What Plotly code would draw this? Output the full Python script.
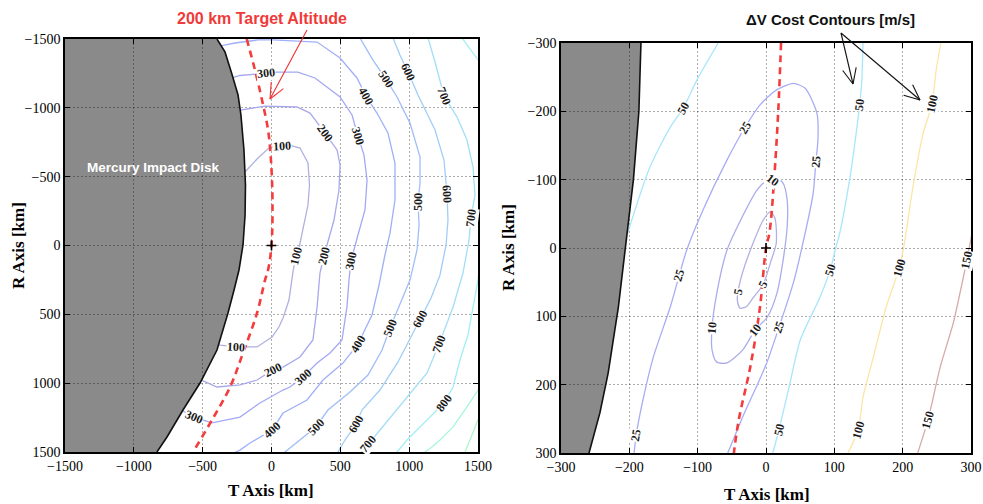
import math
import plotly.graph_objects as go

FIG_W, FIG_H = 983, 504

# ------------------------------------------------------------------
# Wide view (left panel): B-plane T/R coordinates in km
# ------------------------------------------------------------------
wide_ticks = [-1500, -1000, -500, 0, 500, 1000, 1500]

# Edge of the Mercury impact disk
wide_disk_T = [-396, -338, -290, -243, -222, -200, -189, -192, -207, -236, -272, -316, -396, -519, -643, -759, -832]
wide_disk_R = [-1500, -1406, -1253, -1093, -948, -694, -439, -222, -4, 178, 323, 490, 759, 999, 1195, 1391, 1500]

# 200 km target altitude ring
wide_alt_T = [-180, -120, -69, -25, -4, 7, 0, -25, -47, -105, -207, -301, -432, -570]
wide_alt_R = [-1500, -1275, -1057, -839, -621, -331, 0, 178, 251, 490, 781, 1028, 1267, 1500]

# Delta-V cost contours [m/s], vertices as (T, R)
wide_c100 = [(-193, -534), (-98, -636), (-11, -715), (76, -723), (149, -723), (207, -708), (265, -599),
             (276, -439), (265, -294), (229, -127), (200, 18), (178, 76), (156, 192), (127, 396),
             (84, 527), (54, 592), (4, 665), (-105, 737), (-258, 737), (-374, 723), (-385, 718)]
wide_c200 = [(-226, -984), (-47, -1013), (185, -1006), (280, -962), (389, -817), (476, -694), (498, -585),
             (490, -403), (454, -185), (403, -4), (381, 76), (352, 200), (331, 447), (301, 686),
             (207, 810), (84, 883), (11, 904), (-105, 977), (-229, 1013), (-396, 1028), (-505, 980)]
wide_c300 = [(-282, -1220), (-229, -1235), (-98, -1246), (-40, -1253), (40, -1260), (192, -1260),
             (316, -1217), (498, -1079), (585, -948), (628, -795), (672, -657), (694, -476), (679, -258),
             (628, -76), (577, 113), (563, 251), (548, 447), (512, 686), (425, 781), (331, 854),
             (229, 955), (134, 1028), (84, 1050), (-84, 1144), (-229, 1246), (-432, 1289),
             (-563, 1246), (-648, 1200)]
wide_c400 = [(-362, -1452), (-265, -1471), (-98, -1493), (11, -1493), (331, -1478), (498, -1362),
             (621, -1217), (686, -1086), (766, -962), (846, -817), (897, -599), (897, -331), (861, -91),
             (824, 69), (781, 287), (730, 505), (628, 716), (519, 854), (374, 977), (258, 1122),
             (84, 1217), (4, 1340), (-156, 1435), (-229, 1486), (-316, 1529)]
wide_c500 = [(643, -1507), (737, -1347), (832, -1209), (912, -1079), (1006, -889), (1079, -643),
             (1079, -454), (1064, -316), (1072, -149), (1057, 33), (1006, 251), (933, 432), (861, 599),
             (803, 759), (701, 941), (570, 1064), (410, 1195), (323, 1318), (207, 1413), (98, 1500),
             (62, 1529)]
wide_c600 = [(883, -1507), (933, -1384), (992, -1260), (1064, -1093), (1188, -839), (1253, -621),
             (1275, -374), (1282, -185), (1268, -4), (1224, 214), (1159, 381), (1079, 534), (1006, 672),
             (919, 846), (788, 1050), (657, 1195), (614, 1297), (534, 1413), (483, 1500), (461, 1529)]
wide_c700 = [(1137, -1507), (1188, -1333), (1253, -1086), (1348, -933), (1420, -766), (1464, -570),
             (1478, -367), (1449, -200), (1435, -40), (1391, 200), (1319, 447), (1217, 716),
             (1130, 926), (984, 1101), (810, 1318), (701, 1442), (657, 1500), (628, 1544)]
wide_c800_top = [(1384, -1507), (1500, -1347), (1551, -1280)]
wide_c800_low = [(1529, 33), (1500, 251), (1464, 447), (1427, 650), (1369, 832), (1319, 1028),
                 (1253, 1144), (1151, 1246), (984, 1413), (912, 1500), (875, 1544)]
wide_c900 = [(1551, 977), (1515, 1028), (1420, 1173), (1319, 1318), (1224, 1413), (1166, 1464),
             (1115, 1500), (1079, 1529)]
wide_c1000 = [(1529, 1210), (1493, 1282), (1442, 1413), (1406, 1500), (1380, 1540)]

wide_contours = [(100, wide_c100), (200, wide_c200), (300, wide_c300), (400, wide_c400),
                 (500, wide_c500), (600, wide_c600), (700, wide_c700), (800, wide_c800_top),
                 (800, wide_c800_low), (900, wide_c900), (1000, wide_c1000)]

# In-line contour labels (level, T, R)
wide_labels = [(100, 76, -723), (100, 178, 76), (100, -258, 737),
               (200, 389, -817), (200, 381, 76), (200, 11, 904),
               (300, -40, -1253), (300, 628, -795), (300, 577, 113), (300, 229, 955), (300, -563, 1246),
               (400, 686, -1086), (400, 628, 716), (400, 4, 1340),
               (500, 832, -1209), (500, 1064, -316), (500, 861, 599), (500, 323, 1318),
               (600, 992, -1260), (600, 1275, -374), (600, 1079, 534), (600, 614, 1297),
               (700, 1253, -1086), (700, 1449, -200), (700, 1217, 716), (700, 701, 1442),
               (800, 1253, 1144)]

# ------------------------------------------------------------------
# Close view (right panel)
# ------------------------------------------------------------------
close_ticks = [-300, -200, -100, 0, 100, 200, 300]

close_disk_T = [-183, -186, -194, -206, -216, -231, -243, -259]
close_disk_R = [-300, -200, -100, 0, 86, 183, 241, 300]

close_alt_T = [22, 18, 12, 5, 0, -9, -23, -40, -47]
close_alt_R = [-300, -202, -102, -22, 0, 88, 174, 252, 300]

close_c5 = [(6, -53), (13, -44), (15, -7), (7, 20), (-4, 53), (-19, 73), (-29, 86), (-38, 88), (-42, 76),
            (-41, 64), (-34, 35), (-19, -7), (-4, -41), (6, -53)]
close_c10 = [(13, -104), (25, -95), (31, -70), (31, -31), (25, 18), (16, 66), (2, 101), (-16, 120),
             (-34, 149), (-57, 168), (-72, 167), (-79, 149), (-79, 117), (-72, 66), (-57, 3), (-35, -45),
             (-13, -85), (1, -99), (13, -104)]
close_c25 = [(-193, 300), (-190, 274), (-180, 222), (-165, 160), (-140, 86), (-127, 40), (-116, 3),
             (-92, -56), (-57, -129), (-31, -176), (-9, -209), (15, -231), (40, -241), (57, -234),
             (67, -217), (75, -195), (76, -158), (73, -126), (69, -80), (54, -7), (40, 51), (19, 116),
             (0, 171), (-34, 247), (-48, 281), (-56, 300)]
close_c50_left = [(-70, -300), (-101, -246), (-121, -205), (-140, -177), (-170, -118), (-203, -20)]
close_c50_right = [(142, -300), (140, -241), (137, -209), (132, -168), (123, -104), (108, -22), (102, 0),
                   (94, 32), (79, 72), (50, 135), (35, 198), (19, 266), (10, 300)]
close_c100 = [(256, -300), (249, -260), (243, -211), (230, -168), (215, -89), (202, -4), (195, 29),
              (176, 86), (157, 160), (142, 218), (135, 266), (120, 300)]
close_c150 = [(301, -19), (294, 18), (290, 37), (274, 110), (255, 174), (237, 252), (222, 300)]

close_contours = [(5, close_c5), (10, close_c10), (25, close_c25), (50, close_c50_left),
                  (50, close_c50_right), (100, close_c100), (150, close_c150)]

close_labels = [(5, -4, 53), (5, -41, 64),
                (10, 10, -100), (10, -16, 120), (10, -79, 117),
                (25, -127, 40), (25, -31, -176), (25, 73, -126), (25, 19, 116), (25, -190, 274),
                (50, -121, -205), (50, 137, -209), (50, 94, 32), (50, 19, 266),
                (100, 243, -211), (100, 195, 29), (100, 135, 266),
                (150, 294, 18), (150, 237, 252)]

aim_point = [0]

# ------------------------------------------------------------------
# Styling
# ------------------------------------------------------------------
wide_colors = {100: "#b0b0e2", 200: "#a8a8ec", 300: "#a4a8f4", 400: "#a0b0f8", 500: "#a0bef8",
               600: "#a0cef8", 700: "#a2def8", 800: "#a2eef4", 900: "#a8f4e0", 1000: "#b0f4c8"}
close_colors = {5: "#b0b0e4", 10: "#acacec", 25: "#a8acf4", 50: "#a8e6fc", 100: "#fbe6a6", 150: "#d6aaa6"}

LEFT_XDOM = [65 / FIG_W, 478 / FIG_W]
LEFT_YDOM = [1 - 452 / FIG_H, 1 - 39 / FIG_H]
RIGHT_XDOM = [561 / FIG_W, 971 / FIG_W]
RIGHT_YDOM = [1 - 453 / FIG_H, 1 - 43 / FIG_H]

SERIF = "Liberation Serif"
SANS = "Liberation Sans"
ALT_RED = "#f43c3c"
DISK_GRAY = "#8a8a8a"


def scale(dom, ticks, size):
    return (dom[1] - dom[0]) * size / (ticks[-1] - ticks[0])


def label_angle(paths, t, r, kx, ky):
    best = None
    for path in paths:
        for i, (pt, pr) in enumerate(path):
            d = ((pt - t) * kx) ** 2 + ((pr - r) * ky) ** 2
            if best is None or d < best[0]:
                best = (d, path, i)
    _, path, i = best
    a = path[max(i - 1, 0)]
    b = path[min(i + 1, len(path) - 1)]
    dx = (b[0] - a[0]) * kx
    dy = (b[1] - a[1]) * ky  # R axis grows downward on screen
    if dx < 0 or (dx == 0 and dy > 0):
        dx, dy = -dx, -dy
    return math.degrees(math.atan2(dy, dx))


fig = go.Figure()
annotations = []
shapes = []


def add_panel(xa, ya, ticks, disk_T, disk_R, alt_T, alt_R, contours, labels, colors, xdom, ydom, smooth):
    lo, hi = ticks[0], ticks[-1]
    # gray impact disk, drawn under the grid so the dotted grid shows on it
    pts = list(zip(disk_T, disk_R)) + [(lo, hi), (lo, lo)]
    path = "M " + " L ".join(f"{t},{r}" for t, r in pts) + " Z"
    shapes.append(dict(type="path", path=path, xref=xa, yref=ya, layer="below",
                       fillcolor=DISK_GRAY, line=dict(width=0)))
    for level, pts in contours:
        fig.add_trace(go.Scatter(
            x=[p[0] for p in pts], y=[p[1] for p in pts], mode="lines",
            line=dict(color=colors[level], width=1.3, shape="spline" if smooth else "linear",
                      smoothing=0.7),
            xaxis=xa, yaxis=ya, hoverinfo="skip", showlegend=False))
    fig.add_trace(go.Scatter(x=disk_T, y=disk_R, mode="lines",
                             line=dict(color="#111111", width=1.6),
                             xaxis=xa, yaxis=ya, hoverinfo="skip", showlegend=False))
    fig.add_trace(go.Scatter(x=alt_T, y=alt_R, mode="lines",
                             line=dict(color=ALT_RED, width=2.6, dash="7px,5px", shape="spline"),
                             xaxis=xa, yaxis=ya, hoverinfo="skip", showlegend=False))
    fig.add_trace(go.Scatter(x=aim_point, y=aim_point, mode="markers",
                             marker=dict(symbol="cross-thin", size=7, line=dict(width=1.6, color="black")),
                             xaxis=xa, yaxis=ya, hoverinfo="skip", showlegend=False))
    kx = scale(xdom, ticks, FIG_W)
    ky = scale(ydom, ticks, FIG_H)
    for level, t, r in labels:
        paths = [p for lv, p in contours if lv == level]
        ang = label_angle(paths, t, r, kx, ky)
        annotations.append(dict(x=t, y=r, xref=xa, yref=ya, text=f"<b>{level}</b>", showarrow=False,
                                textangle=ang, bgcolor="white", borderpad=0,
                                font=dict(family=SERIF, size=12, color="#1a1a1a")))


add_panel("x", "y", wide_ticks, wide_disk_T, wide_disk_R, wide_alt_T, wide_alt_R,
          wide_contours, wide_labels, wide_colors, LEFT_XDOM, LEFT_YDOM, False)
add_panel("x2", "y2", close_ticks, close_disk_T, close_disk_R, close_alt_T, close_alt_R,
          close_contours, close_labels, close_colors, RIGHT_XDOM, RIGHT_YDOM, True)


def axis(dom, ticks, reverse, anchor):
    rng = [ticks[-1], ticks[0]] if reverse else [ticks[0], ticks[-1]]
    return dict(domain=dom, range=rng, tickvals=ticks, anchor=anchor, showgrid=True,
                gridcolor="rgba(0,0,0,0.32)", griddash="2px,2px", gridwidth=1,
                zeroline=False, showline=True, linecolor="black", linewidth=1.5,
                mirror="ticks", ticks="inside", ticklen=5, tickwidth=1, tickcolor="black",
                tickfont=dict(family=SERIF, size=14, color="black"),
                layer="above traces", automargin=False, fixedrange=True)


def px_to_paper(x, y):
    return x / FIG_W, 1 - y / FIG_H


def arrow(tail, tip, color, barb=17, spread=24):
    tx, ty = tail
    hx, hy = tip
    base = math.atan2(ty - hy, tx - hx)
    segs = [(tail, tip)]
    for s in (-spread, spread):
        a = base + math.radians(s)
        segs.append((tip, (hx + barb * math.cos(a), hy + barb * math.sin(a))))
    for p0, p1 in segs:
        x0, y0 = px_to_paper(*p0)
        x1, y1 = px_to_paper(*p1)
        shapes.append(dict(type="line", xref="paper", yref="paper", x0=x0, y0=y0, x1=x1, y1=y1,
                           line=dict(color=color, width=1.1), layer="above"))


arrow((307, 30), (270, 99), "#f03030")
arrow((841, 33), (853, 84), "#111111")
arrow((841, 33), (920, 100), "#111111")


def paper_text(text, x, y, size, color, family, angle=0):
    px, py = px_to_paper(x, y)
    annotations.append(dict(x=px, y=py, xref="paper", yref="paper", text=text, showarrow=False,
                            textangle=angle, xanchor="center", yanchor="middle",
                            font=dict(family=family, size=size, color=color)))


paper_text("<b>200 km Target Altitude</b>", 262, 19, 16, "#f03a3a", SANS)
paper_text("<b>\u0394V Cost Contours [m/s]</b>", 830, 20, 15, "#111111", SANS)
paper_text("<b>Mercury Impact Disk</b>", 153, 168, 13.5, "white", SANS)
paper_text("<b>T Axis [km]</b>", 271, 490, 17, "black", SERIF)
paper_text("<b>T Axis [km]</b>", 767, 494, 17, "black", SERIF)
paper_text("<b>R Axis [km]</b>", 18, 246, 17, "black", SERIF, -90)
paper_text("<b>R Axis [km]</b>", 508, 248, 17, "black", SERIF, -90)

fig.update_layout(
    width=FIG_W, height=FIG_H,
    margin=dict(l=0, r=0, t=0, b=0),
    paper_bgcolor="white", plot_bgcolor="white",
    xaxis=axis(LEFT_XDOM, wide_ticks, False, "y"),
    yaxis=axis(LEFT_YDOM, wide_ticks, True, "x"),
    xaxis2=axis(RIGHT_XDOM, close_ticks, False, "y2"),
    yaxis2=axis(RIGHT_YDOM, close_ticks, True, "x2"),
    annotations=annotations,
    shapes=shapes,
    showlegend=False,
)

fig.write_html("out.html", config={"displayModeBar": False})
